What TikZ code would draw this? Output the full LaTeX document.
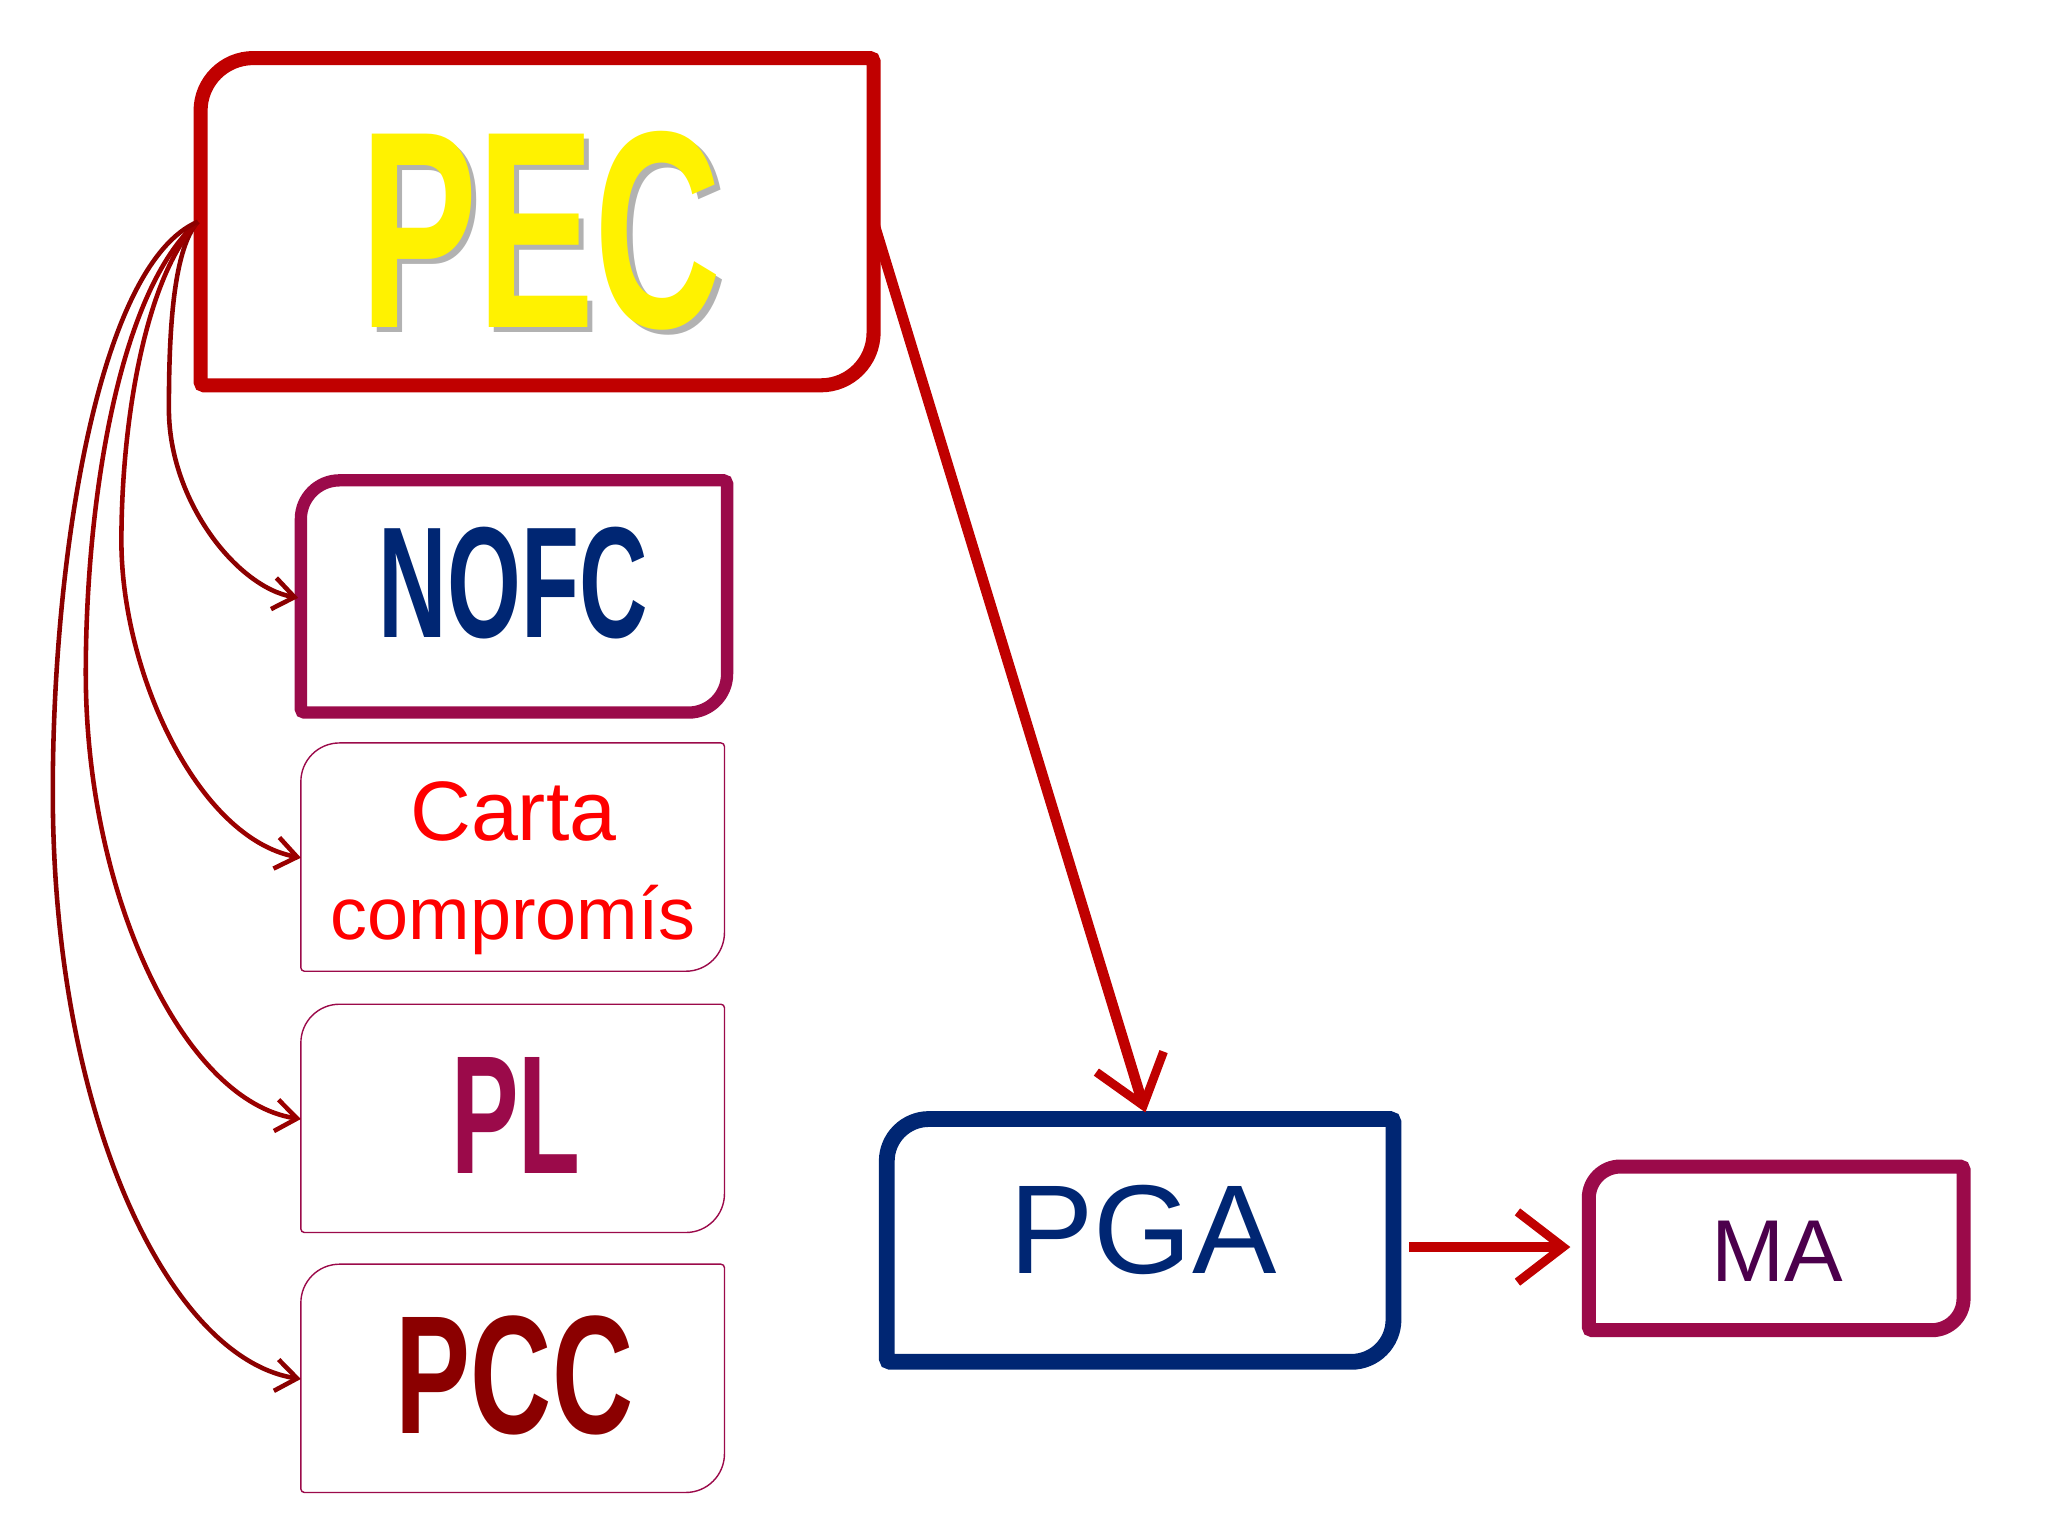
\documentclass[tikz,border=0pt]{standalone}
\usepackage{fontspec}
\setmainfont{Liberation Sans}
\usetikzlibrary{arrows.meta}
\definecolor{pecred}{HTML}{C00000}
\definecolor{navy}{HTML}{002673}
\definecolor{plum}{HTML}{9B0A4A}
\definecolor{dred}{HTML}{8B0000}
\newcommand{\rbox}[6]{% style, x1,y1,x2,y2, radius
  \draw[#1,rounded corners=1pt] (#2,#5) -- (#2,#3+40) [rounded corners=#6] -- (#2,#3) [rounded corners=1pt]-- (#4,#3) -- (#4,#5-40) [rounded corners=#6] -- (#4,#5) [rounded corners=1pt] -- cycle;}
\begin{document}
\begin{tikzpicture}[x=0.0132cm,y=-0.0132cm,
  conn/.style={draw=dred,line width=1.3pt,-{Straight Barb[length=6pt,width=9pt]}},
  big/.style={-{Straight Barb[length=13pt,width=20pt,line width=2.5pt]},draw=pecred,line width=3pt}]
\useasboundingbox (0,0) rectangle (1552,1164);
% PEC
\rbox{pecred,line width=4pt}{152}{44}{662}{292}{15pt}
\coordinate (pecL) at (150,168);
\coordinate (pecR) at (662,168);
\node[text=gray!60] at (414,179) {\scalebox{1.0}[1.6]{\bfseries\fontsize{50}{50}\selectfont PEC}};
\node[text=yellow] (pec) at (410,175) {\scalebox{1.0}[1.6]{\bfseries\fontsize{50}{50}\selectfont PEC}};
% NOFC
\rbox{plum,line width=3.5pt}{228}{364}{551}{540}{11pt}
\node[text=navy] (nofc) at (389,442) {\scalebox{0.9}[1.5]{\bfseries\fontsize{30}{30}\selectfont NOFC}};
\coordinate (nofcL) at (226,453);
% thin boxes
\foreach \y in {563,761,958}{
  \rbox{plum,line width=0.4pt}{228}{\y}{549}{\y+173}{11pt}
}
\node[text=red,align=center,font=\fontsize{24}{28}\selectfont] (carta) at (389,658) {Carta\\\fontsize{21}{24}\selectfont compromís};
\node[text=plum] (pl) at (391,845) {\scalebox{0.9}[1.5]{\bfseries\fontsize{32}{32}\selectfont PL}};
\node[text=dred] (pcc) at (390,1042) {\scalebox{1.0}[1.5]{\bfseries\fontsize{32}{32}\selectfont PCC}};
\coordinate (cartaL) at (228,650);
\coordinate (plL) at (228,848);
\coordinate (pccL) at (228,1045);
% PGA
\rbox{navy,line width=4.5pt}{672}{848}{1056}{1032}{12pt}
\node[text=navy,font=\fontsize{36}{36}\selectfont] (pga) at (866,932) {PGA};
\coordinate (pgaT) at (868,843);
\coordinate (pgaR) at (1068,945);
% MA
\rbox{plum,line width=4pt}{1204}{884}{1488}{1008}{9pt}
\node[text=violet!60!black,font=\fontsize{25}{25}\selectfont] (ma) at (1347,948) {MA};
\coordinate (maL) at (1190,945);
% arrows
\draw[big] (pecR) -- (pgaT);
\draw[big] (pgaR) -- (maL);
\draw[conn] (pecL) .. controls (130,190) and (128,260) .. (128,310) .. controls (128,380) and (180,445) .. (nofcL);
\draw[conn,draw=pecred!80!black] (pecL) .. controls (110,210) and (92,320) .. (92,410) .. controls (92,510) and (150,635) .. (cartaL);
\draw[conn,draw=pecred!80!black] (pecL) .. controls (90,220) and (65,380) .. (65,510) .. controls (65,680) and (140,835) .. (plL);
\draw[conn] (pecL) .. controls (75,200) and (40,420) .. (40,600) .. controls (40,850) and (130,1030) .. (pccL);
\end{tikzpicture}
\end{document}
